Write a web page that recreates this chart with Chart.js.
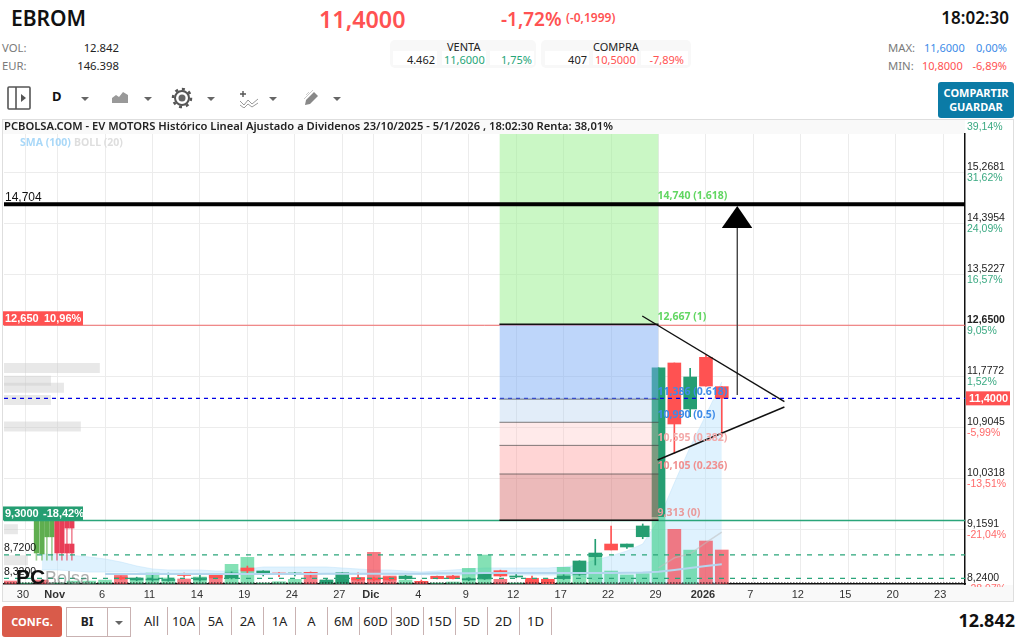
<!DOCTYPE html>
<html lang="es">
<head>
<meta charset="utf-8">
<title>EBROM</title>
<script src="https://cdn.jsdelivr.net/npm/chart.js@4"></script>
<style>
	html, body { margin: 0; padding: 0; background: #fff; }
	body { width: 1028px; height: 643px; position: relative; overflow: hidden; font-family: "Noto Sans", sans-serif; color: #222; }
	.t { position: absolute; white-space: nowrap; line-height: 1; }
	.r { text-align: right; }
	.grey { color: #7a7a7a; }
	.red { color: #ff5252; }
	.green { color: #26a578; }
	.blue { color: #3d8be8; }
	.quote { position: absolute; top: 40px; height: 28px; background: #f8f8f8; border-radius: 5px; }
	.chip { position: absolute; top: 51px; height: 14px; background: #fff; }
	.panel { position: absolute; left: 2px; top: 119px; width: 1012px; height: 483px; border: 1px solid #dedede; box-sizing: border-box; }
	.strip { position: absolute; background: #f9f9f9; }
	canvas { position: absolute; left: 0; top: 120px; }
	.share { position: absolute; left: 938px; top: 82px; width: 76px; height: 36px; background: #0b7ba6; border-radius: 3px; color: #fff; font-weight: 700; font-size: 11px; line-height: 14px; text-align: center; padding-top: 4px; box-sizing: border-box; }
	.confg { position: absolute; left: 2px; top: 606px; width: 60px; height: 31px; background: #d95b4a; border-radius: 3px; color: #fff; font-weight: 700; font-size: 11px; line-height: 31px; text-align: center; }
	.select { position: absolute; left: 66px; top: 607px; width: 65px; height: 30px; border: 1px solid #c9b2b2; box-sizing: border-box; }
	.select b { position: absolute; left: 0; width: 40px; text-align: center; font-size: 12px; line-height: 28px; }
	.select i { position: absolute; left: 40px; top: 0; width: 1px; height: 28px; background: #c9b2b2; }
	.range { position: absolute; top: 607px; width: 32px; height: 28px; border-right: 1px solid #c9b2b2; box-sizing: border-box; font-size: 13px; line-height: 28px; text-align: center; }
	.caret { position: absolute; top: 97px; width: 0; height: 0; border-left: 4px solid transparent; border-right: 4px solid transparent; border-top: 4px solid #666; }
	svg { position: absolute; }
</style>
</head>
<body>
	<div class="t" style="left:11px;top:8px;font-size:21px;font-weight:600;color:#111">EBROM</div>
	<div class="t red" style="left:319px;top:8px;font-size:23.3px;font-weight:600">11,4000</div>
	<div class="t red" style="left:501px;top:10px;font-size:19px;font-weight:600">-1,72%</div>
	<div class="t red" style="left:566px;top:12px;font-size:12px;font-weight:600">(-0,1999)</div>
	<div class="t" style="right:19px;top:9px;font-size:17px;font-weight:600;color:#111">18:02:30</div>

	<div class="t grey" style="left:2px;top:42px;font-size:11.3px">VOL:</div>
	<div class="t" style="right:909px;top:42px;font-size:11.3px">12.842</div>
	<div class="t grey" style="left:2px;top:60px;font-size:11.3px">EUR:</div>
	<div class="t" style="right:909px;top:60px;font-size:11.3px">146.398</div>

	<div class="quote" style="left:390px;width:146px"></div>
	<div class="quote" style="left:541px;width:150px"></div>
	<div class="chip" style="left:393px;width:44px"></div>
	<div class="chip" style="left:442px;width:44px"></div>
	<div class="chip" style="left:490px;width:44px"></div>
	<div class="chip" style="left:545px;width:44px"></div>
	<div class="chip" style="left:593px;width:44px"></div>
	<div class="chip" style="left:641px;width:47px"></div>
	<div class="t" style="left:447px;top:41px;font-size:11px">VENTA</div>
	<div class="t" style="left:593px;top:41px;font-size:11px">COMPRA</div>
	<div class="t" style="right:593px;top:54px;font-size:11px">4.462</div>
	<div class="t green" style="left:444px;top:54px;font-size:11px">11,6000</div>
	<div class="t green" style="right:496px;top:54px;font-size:11px">1,75%</div>
	<div class="t" style="right:441px;top:54px;font-size:11px">407</div>
	<div class="t red" style="left:595px;top:54px;font-size:11px">10,5000</div>
	<div class="t red" style="right:344px;top:54px;font-size:11px">-7,89%</div>

	<div class="t grey" style="left:888px;top:42px;font-size:11.3px">MAX:</div>
	<div class="t blue" style="left:924px;top:42px;font-size:11px">11,6000</div>
	<div class="t blue" style="right:21px;top:42px;font-size:11px">0,00%</div>
	<div class="t grey" style="left:888px;top:60px;font-size:11.3px">MIN:</div>
	<div class="t red" style="left:922px;top:60px;font-size:11px">10,8000</div>
	<div class="t red" style="right:21px;top:60px;font-size:11px">-6,89%</div>
	<div class="share">COMPARTIR<br>GUARDAR</div>

	<svg style="left:7px;top:86px" width="24" height="24" viewBox="0 0 24 24"><rect x="1" y="1" width="22" height="22" rx="1" fill="none" stroke="#555" stroke-width="1.6"/><path d="M9 1V23" stroke="#555" stroke-width="1.6"/><path d="M14 8L19 12L14 16Z" fill="#555"/></svg>
	<div class="t" style="left:52px;top:90px;font-size:13px;font-weight:700;color:#111">D</div>
	<div class="caret" style="left:81px"></div>
	<svg style="left:111px;top:90px" width="18" height="14" viewBox="0 0 18 14"><path d="M1 13V8L5 5L8 7L12 2L17 5V13Z" fill="#999"/></svg>
	<div class="caret" style="left:144px"></div>
	<svg style="left:171px;top:87px" width="22" height="22" viewBox="0 0 22 22"><circle cx="11" cy="11" r="7" fill="none" stroke="#555" stroke-width="2"/><circle cx="11" cy="11" r="3.5" fill="#666"/><circle cx="11" cy="11" r="9" fill="none" stroke="#555" stroke-width="2.5" stroke-dasharray="3 4"/></svg>
	<div class="caret" style="left:207px"></div>
	<svg style="left:239px;top:90px" width="20" height="18" viewBox="0 0 20 18"><path d="M4 1V7M1 4H7" stroke="#555" stroke-width="1.4"/><path d="M1 11L5 15L9 10L13 14L19 9M1 15L5 18L9 14L13 17L19 13" fill="none" stroke="#999" stroke-width="1"/></svg>
	<div class="caret" style="left:269px"></div>
	<svg style="left:303px;top:89px" width="18" height="18" viewBox="0 0 18 18"><path d="M3 11L11 3L15 7L7 15L2 16Z" fill="#888"/><path d="M6 3L3 6M10 1L1 10" stroke="#ccc" stroke-width="1"/></svg>
	<div class="caret" style="left:333px"></div>

	<div class="panel"></div>
	<div class="strip" style="left:3px;top:120px;width:962px;height:14px"></div>
	<div class="strip" style="left:3px;top:585px;width:1010px;height:16px"></div>
	<canvas id="chart" width="1016" height="482"></canvas>

	<div class="confg">CONFG.</div>
	<div class="select"><b>BI</b><i></i><span class="caret" style="left:48px;top:13px"></span></div>
	<div id="ranges"></div>
	<div class="t" style="right:13px;top:611px;font-size:18px;font-weight:700;color:#111">12.842</div>

<script>
	'use strict';

	// x axis: sessions by index, 29 Oct 2025 = 0
	var tickIndex = [1, 3, 6, 9, 12, 15, 18, 21, 23, 26, 29, 32, 35, 38, 41, 44, 47, 50, 53, 56, 59];
	var tickLabels = ['30', 'Nov', '6', '11', '14', '19', '24', '27', 'Dic', '4', '9', '12', '17', '22', '29', '2026', '7', '12', '15', '20', '23'];
	var boldLabels = ['Nov', 'Dic', '2026'];

	// y axis
	var priceTicks = [8.24, 9.1591, 10.0318, 10.9045, 11.7772, 12.65, 13.5227, 14.3954, 15.2681];
	var pctValues = [8.223, 9.1591, 10.0318, 10.9045, 11.7772, 12.65, 13.5227, 14.3954, 15.2681, 16.1408];
	var pctLabels = ['-28,97%', '-21,04%', '-13,51%', '-5,99%', '1,52%', '9,05%', '16,57%', '24,09%', '31,62%', '39,14%'];

	// candles
	var opens = [null, null, null, null, null, null, null, 8.343, 8.292, 8.292, 8.283, 8.385, 8.292, 8.377, 8.326, 8.497, 8.416, 8.411, 8.394, 8.423, 8.24, 8.24, 8.326, 8.326, 8.343, 8.314, 8.269, 8.355, 8.36, 8.292, 8.309, 8.451, 8.343, 8.321, 8.304, 8.314, 8.389, 8.69, 8.907, 8.856, 9.032, 9.375, 12.005, 11.218, 12.102, 11.6];
	var closes = [null, null, null, null, null, null, null, 8.309, 8.326, 8.309, 8.3, 8.369, 8.326, 8.326, 8.411, 8.446, 8.446, 8.394, 8.411, 8.394, 8.292, 8.416, 8.292, 8.292, 8.292, 8.36, 8.252, 8.314, 8.314, 8.314, 8.394, 8.36, 8.36, 8.245, 8.223, 8.36, 8.617, 8.753, 8.805, 8.907, 9.216, 11.924, 10.961, 11.765, 11.61, 11.4];
	var highs = [null, null, null, null, null, null, null, 8.36, 8.34, 8.377, 8.41, 8.41, 8.375, 8.39, 8.43, 8.53, 8.45, 8.42, 8.42, 8.43, 8.31, 8.42, 8.416, 8.34, 8.35, 8.37, 8.29, 8.36, 8.37, 8.33, 8.4, 8.46, 8.385, 8.36, 8.31, 8.38, 8.62, 8.988, 9.216, 8.907, 9.25, 11.924, 12.005, 11.914, 12.142, 11.6];
	var lows = [null, null, null, null, null, null, null, 8.3, 8.28, 8.27, 8.27, 8.34, 8.27, 8.31, 8.31, 8.4, 8.36, 8.35, 8.36, 8.34, 8.23, 8.23, 8.28, 8.27, 8.28, 8.3, 8.24, 8.31, 8.31, 8.28, 8.3, 8.35, 8.33, 8.24, 8.223, 8.3, 8.37, 8.548, 8.805, 8.83, 8.998, 9.375, 10.46, 11.086, 11.61, 10.744];

	// volume
	var volumes = [1130, 400, 1500, 400, 1100, 1100, 1500, 3400, 1500, 4150, 2270, 1900, 2640, 3400, 7440, 10080, 380, 870, 1770, 4420, 1250, 1500, 2530, 11970, 3020, 1500, 1000, 400, 760, 5930, 10950, 1780, 400, 1500, 400, 6300, 3660, 10080, 4900, 3400, 3900, 25300, 20660, 12800, 16240, 12842];
	var volumeDown = [0, 2, 7, 11, 13, 19, 22, 23, 24, 26, 31, 33, 34, 42, 44, 45];

	// indicators
	var bollUpper = [null, null, 8.736, 8.728, 8.711, 8.685, 8.651, 8.599, 8.531, 8.48, 8.463, 8.463, 8.463, 8.445, 8.445, 8.48, 8.514, 8.514, 8.514, 8.514, 8.514, 8.497, 8.48, 8.463, 8.463, 8.445, 8.428, 8.445, 8.463, 8.48, 8.497, 8.497, 8.497, 8.497, 8.497, 8.514, 8.548, 8.634, 8.702, 8.788, 8.907, 9.318, 9.951, 10.567, 11.115, 11.68];
	var bollMiddle = [null, null, null, null, null, null, null, null, null, null, null, null, null, null, null, null, null, null, null, null, null, null, null, null, null, null, null, null, null, null, null, null, null, null, null, null, null, null, null, null, null, 8.5, 8.67, 8.74, 8.93, 9.11];
	var bollLower = [null, null, 8.463, 8.463, 8.445, 8.428, 8.428, 8.428, 8.428, 8.394, 8.394, 8.394, 8.394, 8.394, 8.394, 8.394, 8.394, 8.394, 8.394, 8.394, 8.394, 8.385, 8.385, 8.385, 8.385, 8.385, 8.385, 8.377, 8.377, 8.377, 8.377, 8.377, 8.377, 8.377, 8.377, 8.377, 8.36, 8.291, 8.12, 7.95, 7.61, 6.92, 6.41, 5.98, 5.72, 5.38];
	var sma = [null, null, null, null, null, null, 8.394, 8.394, 8.394, 8.394, 8.394, 8.394, 8.394, 8.394, 8.394, 8.394, 8.394, 8.394, 8.394, 8.394, 8.4, 8.4, 8.4, 8.4, 8.4, 8.4, 8.4, 8.405, 8.405, 8.405, 8.41, 8.41, 8.41, 8.41, 8.41, 8.41, 8.41, 8.41, 8.412, 8.415, 8.42, 8.433, 8.463, 8.497, 8.531, 8.56];

	// compressed candles at the left edge
	var miniIndex = [1.66, 2.01, 2.32, 2.64, 2.96, 3.27, 3.59, 3.9];
	var miniTop = [9.3, 9.3, 9.3, 9.3, 9.3, 9.3, 9.3, 9.3];
	var miniBottom = [8.754, 8.737, 9.03, 9.03, 8.754, 8.754, 9.18, 9.18];
	var miniLow = [8.63, 8.63, 8.63, 8.63, 8.63, 8.63, 8.63, 8.63];
	var miniLowerIndex = [3.59, 3.9];
	var miniLowerTop = [8.907, 8.907];
	var miniLowerBottom = [8.754, 8.754];
	var miniUp = [true, true, true, true, false, false, false, false];

	// volume by price at the left edge
	var profilePrices = [11.92, 11.7, 11.58, 11.37, 10.92, 9.16, 8.63];
	var profileReach = [5.67, 2.58, 3.4, 2.58, 4.47, 0.49, 1.12];

	// levels
	var lastPrice = 11.4;
	var resistance = 12.65;
	var support = 9.31;
	var longLine = 14.72;
	var dashedLevels = [8.72, 8.32];
	var minPrice = 8.24;

	// fibonacci box
	var fibStart = 30.94;
	var fibEnd = 41;
	var fibPrices = [15.923, 12.667, 11.386, 10.99, 10.595, 10.105, 9.313];
	var fibTexts = ['14,740 (1.618)', '12,667 (1)', '11,386 (0.618)', '10,990 (0.5)', '10,595 (0.382)', '10,105 (0.236)', '9,313 (0)'];
	var fibTextPrices = [14.74, 12.667, 11.386, 10.99, 10.595, 10.105, 9.313];

	// drawn triangle and arrow
	var upperTrendX = [39.97, 48.96];
	var upperTrendY = [12.809, 11.343];
	var lowerTrendX = [40.94, 48.96];
	var lowerTrendY = [10.345, 11.252];
	var arrowX = [45.98, 45.98];
	var arrowY = [11.457, 14.315];
	var arrowHeadX = [45, 45.98, 46.93];
	var arrowHeadY = [14.315, 14.69, 14.315];

	var rangeLabels = ['All', '10A', '5A', '2A', '1A', 'A', '6M', '60D', '30D', '15D', '5D', '2D', '1D'];

	var xMin = -0.39;
	var xMax = 60.38;
	var yMin = 8.223;
	var yMax = 15.923;
	var UP = '#259e72';
	var DOWN = '#ff5252';

	function byIndex(values) {
		return values.map(function (v, i) {
			return { x: i, y: v };
		});
	}

	function pairs(xs, ys) {
		return xs.map(function (x, i) {
			return { x: x, y: ys[i] };
		});
	}

	function line(points, color, width, order, dash) {
		return {
			type: 'line',
			data: points,
			borderColor: color,
			borderWidth: width,
			borderDash: dash || [],
			pointRadius: 0,
			tension: 0,
			fill: false,
			order: order,
			yAxisID: 'y'
		};
	}

	function level(price, color, width, order, dash) {
		return line([{ x: xMin, y: price }, { x: xMax, y: price }], color, width, order, dash);
	}

	function bars(points, thickness, color, order, axis) {
		return {
			type: 'bar',
			data: points,
			barThickness: thickness,
			backgroundColor: color,
			grouped: false,
			order: order,
			yAxisID: axis || 'y'
		};
	}

	function fibBand(top, bottom, color) {
		var ds = line([{ x: fibStart, y: bottom }, { x: fibEnd, y: bottom }], 'rgba(0,0,0,0)', 0, 40);
		ds.fill = { value: top };
		ds.backgroundColor = color;
		return ds;
	}

	var candleIndex = [];
	opens.forEach(function (o, i) {
		if (o !== null) {
			candleIndex.push(i);
		}
	});

	function candleColor(i) {
		return closes[i] >= opens[i] ? UP : DOWN;
	}

	var datasets = [];

	// profile and bands at the back
	profilePrices.forEach(function (p, i) {
		datasets.push(line([{ x: xMin, y: p }, { x: profileReach[i], y: p }], 'rgba(205,205,205,0.45)', 10, 100));
	});

	var upperDs = line(byIndex(bollUpper), 'rgba(190,225,250,0.5)', 1, 95);
	upperDs.fill = '+1';
	upperDs.backgroundColor = 'rgba(185,226,252,0.45)';
	datasets.push(upperDs);
	datasets.push(line(byIndex(bollLower), 'rgba(190,225,250,0.5)', 1, 95));

	datasets.push(bars(byIndex(volumes), 13, volumes.map(function (v, i) {
		return volumeDown.indexOf(i) >= 0 ? 'rgba(244,72,84,0.72)' : 'rgba(56,206,136,0.62)';
	}), 90, 'yVol'));

	datasets.push(bars(candleIndex.map(function (i) {
		return { x: i, y: [lows[i], highs[i]] };
	}), 1, candleIndex.map(candleColor), 85));
	datasets.push(bars(candleIndex.map(function (i) {
		return { x: i, y: [opens[i], closes[i]] };
	}), 13, candleIndex.map(candleColor), 84));

	datasets.push(line(byIndex(bollMiddle), 'rgba(190,190,190,0.55)', 1.5, 80));
	datasets.push(line(byIndex(sma), '#b4d6ee', 2, 79));

	// squeezed candles
	datasets.push(bars(miniIndex.map(function (x, i) {
		return { x: x, y: [miniLow[i], miniTop[i]] };
	}), 1, miniUp.map(function (u) {
		return u ? 'rgba(95,174,79,0.6)' : 'rgba(232,62,87,0.6)';
	}), 78));
	datasets.push(bars(miniIndex.map(function (x, i) {
		return { x: x, y: [miniBottom[i], miniTop[i]] };
	}), 4.5, miniUp.map(function (u) {
		return u ? '#5fae4f' : '#e83e57';
	}), 77));
	datasets.push(bars(miniLowerIndex.map(function (x, i) {
		return { x: x, y: [miniLowerBottom[i], miniLowerTop[i]] };
	}), 4.5, '#e83e57', 77));

	// horizontal levels
	datasets.push(level(resistance, '#ef6a6a', 1, 70));
	datasets.push(level(support, '#2aa57a', 1.5, 70));
	datasets.push(level(lastPrice, '#0000e6', 1.2, 70, [4, 4]));
	dashedLevels.forEach(function (p) {
		datasets.push(level(p, '#2aa57a', 1.2, 70, [5, 6]));
	});
	datasets.push(level(minPrice, '#111', 1.2, 70, [1.5, 1.5]));

	// fibonacci box over the candles
	datasets.push(fibBand(fibPrices[0], fibPrices[1], 'rgba(150,240,140,0.5)'));
	datasets.push(fibBand(fibPrices[1], fibPrices[2], 'rgba(120,170,245,0.48)'));
	datasets.push(fibBand(fibPrices[2], fibPrices[3], 'rgba(165,200,235,0.32)'));
	datasets.push(fibBand(fibPrices[3], fibPrices[4], 'rgba(255,190,190,0.32)'));
	datasets.push(fibBand(fibPrices[4], fibPrices[5], 'rgba(255,150,150,0.4)'));
	datasets.push(fibBand(fibPrices[5], fibPrices[6], 'rgba(215,110,110,0.48)'));
	fibPrices.slice(1).forEach(function (p, i) {
		var strong = i === 0 || i === 5;
		datasets.push(line([{ x: fibStart, y: p }, { x: fibEnd, y: p }], strong ? '#111' : 'rgba(60,60,60,0.65)', strong ? 1.5 : 1, 39));
	});

	// long line, triangle and arrow
	datasets.push(level(longLine, '#000', 4, 30));
	datasets.push(line(pairs(upperTrendX, upperTrendY), '#111', 1.4, 30));
	datasets.push(line(pairs(lowerTrendX, lowerTrendY), '#111', 1.4, 30));
	datasets.push(line(pairs(arrowX, arrowY), '#444', 1.4, 30));
	var head = line(pairs(arrowHeadX, arrowHeadY), '#000', 0, 29);
	head.fill = { value: arrowHeadY[0] };
	head.backgroundColor = '#000';
	datasets.push(head);

	function tag(ctx, x, y, w, h, color, texts) {
		ctx.fillStyle = color;
		ctx.fillRect(x, y, w, h);
		ctx.fillStyle = '#fff';
		ctx.textAlign = 'left';
		ctx.textBaseline = 'middle';
		ctx.font = 'bold 11px "Liberation Sans"';
		texts.forEach(function (t) {
			ctx.fillText(t[0], t[1], y + h / 2 + 0.5);
		});
	}

	var backdrop = {
		id: 'backdrop',
		beforeDraw: function (chart) {
			var a = chart.chartArea;
			chart.ctx.fillStyle = '#fff';
			chart.ctx.fillRect(a.left, a.top, a.right - a.left, a.bottom - a.top);
		}
	};

	var overlays = {
		id: 'overlays',
		afterDraw: function (chart) {
			var ctx = chart.ctx;
			var y = chart.scales.y;
			var x = chart.scales.x;
			var a = chart.chartArea;
			ctx.save();

			// percentage under each price tick
			ctx.save();
			ctx.beginPath();
			ctx.rect(a.right, 0, 60, a.bottom + 3);
			ctx.clip();
			ctx.textAlign = 'left';
			ctx.textBaseline = 'middle';
			ctx.font = '10.5px "Liberation Sans"';
			pctValues.forEach(function (v, i) {
				ctx.fillStyle = pctLabels[i].charAt(0) === '-' ? '#ff6a6a' : '#3aa982';
				ctx.fillText(pctLabels[i], a.right + 2, y.getPixelForValue(v) + 5.5);
			});
			ctx.restore();

			// fibonacci labels
			ctx.font = 'bold 10.5px "Noto Sans"';
			ctx.textAlign = 'left';
			ctx.textBaseline = 'middle';
			var fibColors = ['#62d662', '#62d662', '#3d8be8', '#3d8be8', '#f3a9a9', '#f08f8f', '#e99a9a'];
			fibTexts.forEach(function (t, i) {
				ctx.fillStyle = fibColors[i];
				ctx.fillText(t, x.getPixelForValue(fibEnd) - 1, y.getPixelForValue(fibTextPrices[i]) - 7.5);
			});

			// legend row
			ctx.font = 'bold 10.5px "Noto Sans"';
			ctx.fillStyle = '#a9d8f8';
			ctx.fillText('SMA (100)', 20, 23);
			ctx.fillStyle = '#dedede';
			ctx.fillText('BOLL (20)', 74, 23);

			// value tags
			tag(ctx, 3, y.getPixelForValue(resistance) - 14, 80, 14, '#ff5252', [['12,650', 5], ['10,96%', 44]]);
			tag(ctx, 3, y.getPixelForValue(support) - 14, 80, 14, '#259e72', [['9,3000', 5], ['-18,42%', 43]]);
			tag(ctx, a.right + 1, y.getPixelForValue(lastPrice) - 7, 44, 14, '#ff5252', [['11,4000', a.right + 4]]);

			// labels sitting on the levels
			ctx.fillStyle = '#111';
			ctx.textAlign = 'left';
			ctx.font = '12px "Liberation Sans"';
			ctx.fillText('14,704', 5, y.getPixelForValue(longLine) - 7);
			ctx.font = '10.5px "Liberation Sans"';
			ctx.fillText('8,7200', 4, y.getPixelForValue(dashedLevels[0]) - 6.5);
			ctx.fillText('8,3200', 4, y.getPixelForValue(dashedLevels[1]) - 6.5);

			// watermark
			ctx.fillStyle = '#111';
			ctx.font = 'bold 21px "Liberation Sans"';
			ctx.textBaseline = 'alphabetic';
			ctx.fillText('PC', 16, a.bottom);
			ctx.fillStyle = 'rgba(120,120,120,0.6)';
			ctx.font = '18px "Liberation Sans"';
			ctx.fillText('Bolsa', 45, a.bottom);
			ctx.restore();
		}
	};

	new Chart(document.getElementById('chart'), {
		data: { datasets: datasets },
		plugins: [backdrop, overlays],
		options: {
			responsive: false,
			animation: false,
			layout: { padding: { left: 4 } },
			plugins: {
				legend: { display: false },
				tooltip: { enabled: false },
				title: {
					display: true,
					text: 'PCBOLSA.COM - EV MOTORS Histórico Lineal Ajustado a Dividenos 23/10/2025 - 5/1/2026 , 18:02:30 Renta: 38,01%',
					align: 'start',
					color: '#222',
					font: { family: '"Noto Sans"', size: 11.2, weight: '600', lineHeight: 1.2 },
					padding: { top: 0, bottom: 0.56 }
				}
			},
			scales: {
				x: {
					type: 'linear',
					min: xMin,
					max: xMax,
					offset: false,
					afterBuildTicks: function (axis) {
						axis.ticks = tickIndex.map(function (v) {
							return { value: v };
						});
					},
					afterFit: function (axis) {
						axis.height = 18;
					},
					border: { color: '#111', width: 1.5 },
					grid: { color: '#ececec', offset: false, drawTicks: false },
					ticks: {
						autoSkip: false,
						maxRotation: 0,
						padding: 4,
						labelOffset: -3,
						color: '#333',
						font: function (c) {
							var label = c.tick ? tickLabels[tickIndex.indexOf(c.tick.value)] : '';
							return { family: '"Liberation Sans"', size: 11, weight: boldLabels.indexOf(label) >= 0 ? 'bold' : 'normal' };
						},
						callback: function (v) {
							return tickLabels[tickIndex.indexOf(v)];
						}
					}
				},
				y: {
					position: 'right',
					min: yMin,
					max: yMax,
					afterBuildTicks: function (axis) {
						axis.ticks = priceTicks.map(function (v) {
							return { value: v };
						});
					},
					afterFit: function (axis) {
						axis.width = 51;
					},
					border: { color: '#111', width: 1.5 },
					grid: { color: '#ececec', drawTicks: false },
					ticks: {
						autoSkip: false,
						padding: 2,
						color: '#222',
						font: function (c) {
							return { family: '"Liberation Sans"', size: 10.5, lineHeight: 1, weight: c.tick && c.tick.value === resistance ? 'bold' : 'normal' };
						},
						callback: function (v) {
							return [v.toFixed(4).replace('.', ','), ' '];
						}
					}
				},
				yVol: {
					display: false,
					min: 0,
					max: 170000
				}
			}
		}
	});

	// period buttons
	var ranges = document.getElementById('ranges');
	rangeLabels.forEach(function (label, i) {
		var b = document.createElement('div');
		b.className = 'range';
		b.style.left = (136 + i * 32) + 'px';
		b.textContent = label;
		ranges.appendChild(b);
	});
</script>
</body>
</html>
